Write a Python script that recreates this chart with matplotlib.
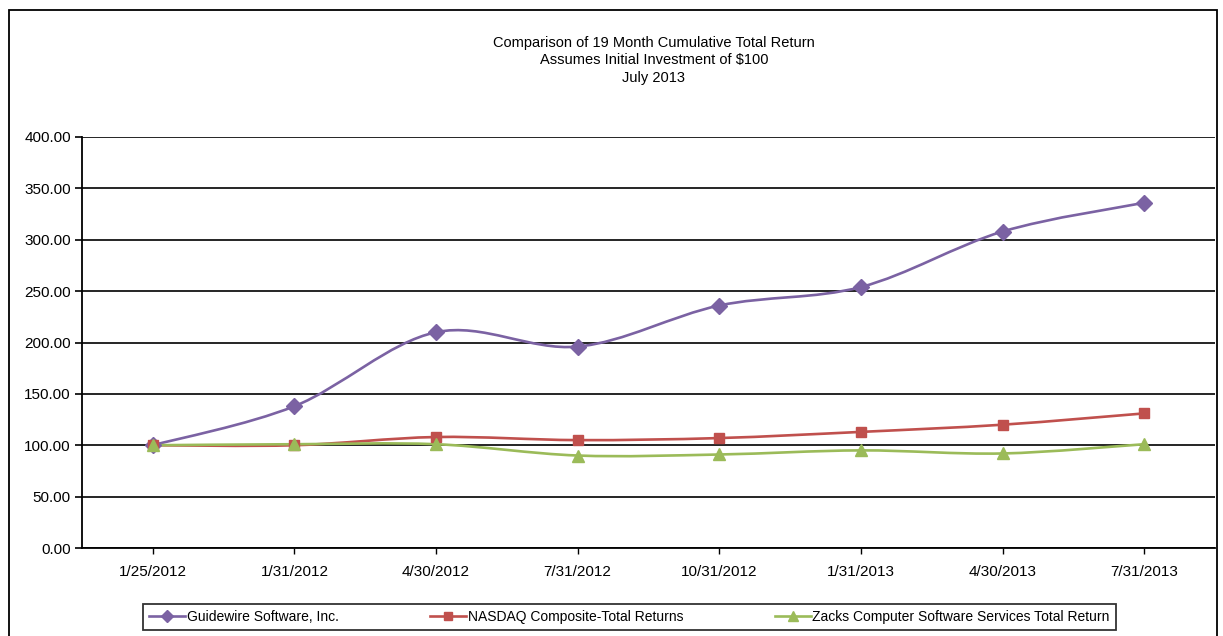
import matplotlib
matplotlib.use("Agg")
import matplotlib.pyplot as plt
import numpy as np
from matplotlib.path import Path
from matplotlib.patches import PathPatch, Rectangle
from matplotlib.lines import Line2D

dates = ["1/25/2012", "1/31/2012", "4/30/2012", "7/31/2012",
         "10/31/2012", "1/31/2013", "4/30/2013", "7/31/2013"]
guidewire = [100.00, 138.00, 210.00, 196.00, 236.00, 254.00, 308.00, 336.00]
nasdaq = [100.00, 100.00, 108.00, 105.00, 107.00, 113.00, 120.00, 131.00]
zacks = [100.00, 101.00, 101.00, 90.00, 91.00, 95.00, 92.00, 101.00]
names = ["Guidewire Software, Inc.", "NASDAQ Composite-Total Returns",
         "Zacks Computer Software Services Total Return"]
title_lines = ["Comparison of 19 Month Cumulative Total Return",
               "Assumes Initial Investment of $100", "July 2013"]

colors = ["#7B62A3", "#C0504D", "#9BBB59"]
markers = ["D", "s", "^"]
msizes = [8.5, 7.5, 9]

plt.rcParams['font.family'] = ['Liberation Sans', 'DejaVu Sans']

W, H = 1223, 636
fig = plt.figure(figsize=(W / 100, H / 100), dpi=100)
fig.patch.set_facecolor("white")

# outer chart frame
fig.patches.append(Rectangle((9 / W, -0.05), (1217 - 9) / W, 1.05 - 10 / H,
                             transform=fig.transFigure, fill=False,
                             edgecolor="black", lw=1.3))

left, right, top, bottom = 82, 1215, 137, 548
ax = fig.add_axes([left / W, 1 - bottom / H, (right - left) / W, (bottom - top) / H])


def smooth_path(xs, ys):
    # excel-like smoothed line: bezier segments with catmull-rom controls
    pts = np.column_stack([xs, ys]).astype(float)
    verts = [pts[0]]
    codes = [Path.MOVETO]
    n = len(pts)
    for i in range(n - 1):
        p0 = pts[max(i - 1, 0)]
        p1 = pts[i]
        p2 = pts[i + 1]
        p3 = pts[min(i + 2, n - 1)]
        c1 = p1 + (p2 - p0) / 6.0
        c2 = p2 - (p3 - p1) / 6.0
        verts += [c1, c2, p2]
        codes += [Path.CURVE4] * 3
    return Path(verts, codes)


x = np.arange(len(dates))
handles = []
for vals, c, m, ms, name in zip([guidewire, nasdaq, zacks], colors, markers, msizes, names):
    ax.add_patch(PathPatch(smooth_path(x, vals), facecolor="none", edgecolor=c,
                           lw=1.9, zorder=3))
    ax.plot(x, vals, linestyle="none", marker=m, markersize=ms, color=c, zorder=4)
    handles.append(Line2D([], [], color=c, lw=1.9, marker=m, markersize=ms * 0.75))

ax.set_xlim(-0.5, len(dates) - 0.5)
ax.set_ylim(0, 400)
ax.set_yticks(np.arange(0, 401, 50))
ax.set_yticklabels(["%.2f" % v for v in np.arange(0, 401, 50)])
ax.set_xticks(x)
ax.set_xticklabels(dates)
ax.yaxis.grid(True, color="black", lw=1.2)
ax.set_axisbelow(True)
for s in ["top", "right"]:
    ax.spines[s].set_visible(False)
ax.spines["left"].set_linewidth(1.3)
ax.spines["bottom"].set_linewidth(1.3)
ax.tick_params(axis="y", length=5, width=1.2, labelsize=11, pad=3)
ax.tick_params(axis="x", length=4, width=1, labelsize=11, pad=8)

fig.text(654 / W, 1 - 43 / H, title_lines[0], ha="center", va="center", fontsize=10.5)
fig.text(654 / W, 1 - 60 / H, title_lines[1], ha="center", va="center", fontsize=10.5)
fig.text(654 / W, 1 - 78 / H, title_lines[2], ha="center", va="center", fontsize=10.5)

leg = fig.legend(handles=handles, labels=names, loc="center", ncol=3,
                 bbox_to_anchor=((141 + 1118) / 2 / W, 1 - 617 / H),
                 frameon=True, fancybox=False, edgecolor="black", fontsize=10,
                 handlelength=2.6, handletextpad=0.1, columnspacing=6.6,
                 borderpad=0.45)
leg.get_frame().set_linewidth(1.3)

fig.savefig("out.png", dpi=100)
